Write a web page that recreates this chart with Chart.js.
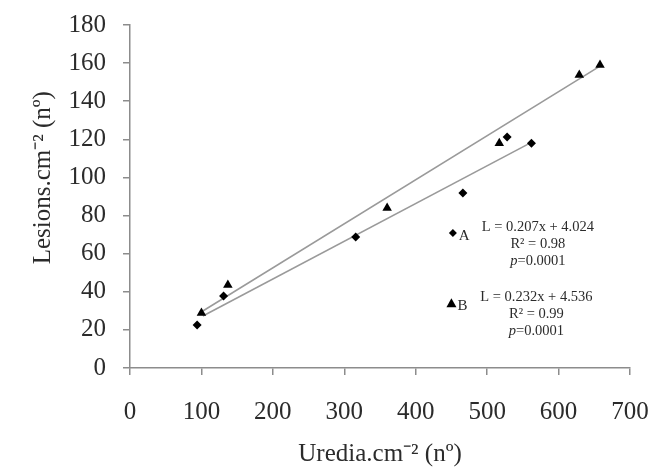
<!DOCTYPE html>
<html>
<head>
<meta charset="utf-8">
<script src="https://cdn.jsdelivr.net/npm/chart.js@4.4.0/dist/chart.umd.min.js"></script>
<style>
  html, body { margin: 0; padding: 0; background: #fff; }
  #wrap { width: 659px; height: 469px; position: relative; }
</style>
</head>
<body>
<div id="wrap"><canvas id="c"></canvas></div>
<script>
// ---- data ----
const seriesA_x = [94, 131, 316, 466, 528, 562];
const seriesA_y = [22.6, 37.8, 68.7, 91.8, 121.2, 118];
const seriesB_x = [100, 137, 360, 517, 629, 658];
const seriesB_y = [28.9, 43.5, 84, 118, 153.7, 159];
const trendA_x = [102, 560];
const trendA_y = [27.3, 118];
const trendB_x = [98, 658];
const trendB_y = [29, 158.4];
const xTicks = [0, 100, 200, 300, 400, 500, 600, 700];
const yTicks = [0, 20, 40, 60, 80, 100, 120, 140, 160, 180];
const annotA = ['A', 'L = 0.207x + 4.024', 'R² = 0.98', '=0.0001'];
const annotB = ['B', 'L = 0.232x + 4.536', 'R² = 0.99', '=0.0001'];
const xTitle = 'Uredia.cm⁻² (nº)';
const yTitle = 'Lesions.cm⁻² (nº)';

const pts = (xs, ys) => xs.map((x, i) => ({ x: x, y: ys[i] }));
const SERIF = '"Liberation Serif", "Times New Roman", serif';
const AXIS = '#8c8c8c';
const TXT = '#2b2b2b';

const annotPlugin = {
  id: 'annot',
  afterDatasetsDraw(chart) {
    const ctx = chart.ctx;
    const xs = chart.scales.x, ys = chart.scales.y;
    const blocks = [
      { lines: annotA, mx: 452, my: 70.8, shape: 'diamond' },
      { lines: annotB, mx: 450, my: 34, shape: 'triangle' }
    ];
    ctx.save();
    blocks.forEach(b => {
      const px = xs.getPixelForValue(b.mx);
      const py = ys.getPixelForValue(b.my);
      ctx.fillStyle = '#000';
      ctx.beginPath();
      if (b.shape === 'diamond') {
        ctx.moveTo(px, py - 4); ctx.lineTo(px + 4, py); ctx.lineTo(px, py + 4); ctx.lineTo(px - 4, py);
      } else {
        ctx.moveTo(px, py - 5); ctx.lineTo(px + 5, py + 4); ctx.lineTo(px - 5, py + 4);
      }
      ctx.closePath(); ctx.fill();
      ctx.fillStyle = TXT;
      ctx.textBaseline = 'middle';
      ctx.textAlign = 'left';
      ctx.font = '15px ' + SERIF;
      ctx.fillText(b.lines[0], px + 6, py + 3);
      const cx = px + 85;
      ctx.textAlign = 'center';
      ctx.font = '14.5px ' + SERIF;
      ctx.fillText(b.lines[1], cx, py - 6);
      ctx.fillText(b.lines[2], cx, py + 11);
      ctx.font = 'italic 14.5px ' + SERIF;
      const pw = ctx.measureText('p').width;
      ctx.font = '14.5px ' + SERIF;
      const rw = ctx.measureText(b.lines[3]).width;
      const startX = cx - (pw + rw) / 2;
      ctx.textAlign = 'left';
      ctx.font = 'italic 14.5px ' + SERIF;
      ctx.fillText('p', startX, py + 28);
      ctx.font = '14.5px ' + SERIF;
      ctx.fillText(b.lines[3], startX + pw, py + 28);
    });
    ctx.restore();
  }
};

const noPad = s => { s.paddingTop = 0; s.paddingBottom = 0; s.paddingLeft = 0; s.paddingRight = 0; };

new Chart(document.getElementById('c'), {
  type: 'scatter',
  data: {
    datasets: [
      { label: 'A', data: pts(seriesA_x, seriesA_y), pointStyle: 'rectRot', pointRadius: 4.5,
        backgroundColor: '#000', borderColor: '#000', borderWidth: 0, order: 0 },
      { label: 'B', data: pts(seriesB_x, seriesB_y), pointStyle: 'triangle', pointRadius: 5.5,
        backgroundColor: '#000', borderColor: '#000', borderWidth: 0, order: 0 },
      { label: 'Trend A', data: pts(trendA_x, trendA_y), showLine: true, pointRadius: 0,
        borderColor: '#9a9a9a', borderWidth: 1.6, fill: false, order: 1 },
      { label: 'Trend B', data: pts(trendB_x, trendB_y), showLine: true, pointRadius: 0,
        borderColor: '#9a9a9a', borderWidth: 1.6, fill: false, order: 1 }
    ]
  },
  options: {
    responsive: true,
    maintainAspectRatio: false,
    animation: false,
    devicePixelRatio: 1,
    layout: { padding: { top: 25, right: 29, left: 0, bottom: 0 } },
    plugins: { legend: { display: false }, tooltip: { enabled: false } },
    scales: {
      x: {
        type: 'linear', min: 0, max: 700,
        afterBuildTicks: s => { s.ticks = xTicks.map(v => ({ value: v })); },
        afterFit: s => { s.height = 101; noPad(s); },
        grid: { display: true, drawOnChartArea: false, drawTicks: true, tickLength: 7, color: AXIS, lineWidth: 1.5 },
        border: { display: true, color: AXIS, width: 1.5 },
        ticks: { font: { family: SERIF, size: 25 }, color: TXT, padding: 22, maxRotation: 0 },
        title: { display: true, text: xTitle, font: { family: SERIF, size: 25 }, color: TXT, padding: { top: 0, bottom: 0 } }
      },
      y: {
        type: 'linear', min: 0, max: 180,
        afterBuildTicks: s => { s.ticks = yTicks.map(v => ({ value: v })); },
        afterFit: s => { s.width = 130; noPad(s); },
        grid: { display: true, drawOnChartArea: false, drawTicks: true, tickLength: 7, color: AXIS, lineWidth: 1.5 },
        border: { display: true, color: AXIS, width: 1.5 },
        ticks: { font: { family: SERIF, size: 25 }, color: TXT, padding: 17 },
        title: { display: true, text: '      ' + yTitle, font: { family: SERIF, size: 25 }, color: TXT, padding: { top: 28, bottom: 0 } }
      }
    }
  },
  plugins: [annotPlugin]
});
</script>
</body>
</html>
